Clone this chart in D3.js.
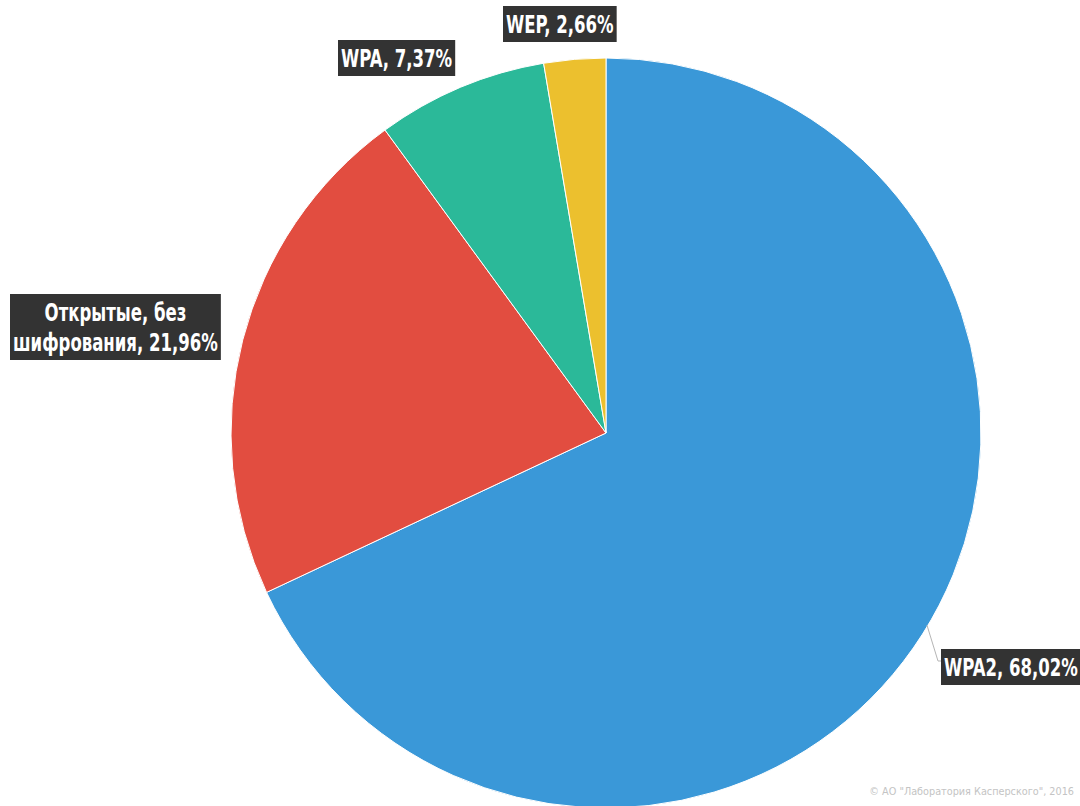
<!DOCTYPE html>
<html lang="ru">
<head>
<meta charset="utf-8">
<title>Wi-Fi encryption</title>
<script src="https://cdn.jsdelivr.net/npm/d3@7"></script>
<style>
    body { margin: 0; background: #fff; }
    .label text {
        font-family: "Liberation Sans Narrow", "DejaVu Sans Condensed", sans-serif;
        font-weight: bold;
        font-size: 25px;
        fill: #fff;
    }
    .copy {
        font-family: "DejaVu Sans", sans-serif;
        font-size: 9.7px;
        fill: #c4c4c4;
    }
</style>
</head>
<body>
<script>
// data
const categories = ["WPA2", "Открытые, без шифрования", "WPA", "WEP"];
const values = [68.02, 21.96, 7.37, 2.66];
const colors = ["#3a98d8", "#e24d40", "#2bb999", "#ecc02e"];
const labelLines = [
    ["WPA2, 68,02%"],
    ["Открытые, без", "шифрования, 21,96%"],
    ["WPA, 7,37%"],
    ["WEP, 2,66%"]
];

// layout
const width = 1080, height = 806;
const cx = 606, cy = 433, radius = 375;
// label box anchors (left, top) per slice
const labelPos = [[941, 649], [10, 294], [338, 40], [503, 6]];

const svg = d3.select("body").append("svg")
    .attr("width", width)
    .attr("height", height);

const pie = d3.pie().sort(null).value(d => d);
const arc = d3.arc().innerRadius(0).outerRadius(radius);
const arcs = pie(values);

svg.append("g")
    .attr("transform", `translate(${cx},${cy})`)
    .selectAll("path")
    .data(arcs)
    .enter()
    .append("path")
    .attr("d", arc)
    .attr("fill", (d, i) => colors[i])
    .attr("stroke", "#fff")
    .attr("stroke-width", 1);

// leader line for WPA2
const edgeA = 2.11;
svg.append("polyline")
    .attr("points", [
        [cx + Math.sin(edgeA) * (radius - 1), cy - Math.cos(edgeA) * (radius - 1)],
        [938, 661], [941, 661]
    ].map(p => p.join(",")).join(" "))
    .attr("fill", "none")
    .attr("stroke", "#b5b5b5")
    .attr("stroke-width", 1);

// labels (condensed look: squeeze text horizontally)
const lineH = 30, padX = 3, squeeze = 0.735;
labelLines.forEach((lines, i) => {
    const g = svg.append("g").attr("class", "label");
    const rect = g.append("rect").attr("fill", "#333");
    const txt = g.append("text").attr("text-anchor", "middle");
    lines.forEach((l, j) => {
        txt.append("tspan").attr("x", 0).attr("y", j * lineH).text(l);
    });
    const bb = txt.node().getBBox();
    const w = bb.width * squeeze + padX * 2, h = (lines.length - 1) * lineH + 36;
    const [x0, y0] = labelPos[i];
    txt.attr("transform", `translate(${x0 + w / 2},${y0 + 27}) scale(${squeeze},1)`);
    rect.attr("x", x0).attr("y", y0).attr("width", w).attr("height", h);
});

svg.append("text")
    .attr("class", "copy")
    .attr("x", 1074)
    .attr("y", 795)
    .attr("text-anchor", "end")
    .text("© АО \"Лаборатория Касперского\", 2016");
</script>
</body>
</html>
